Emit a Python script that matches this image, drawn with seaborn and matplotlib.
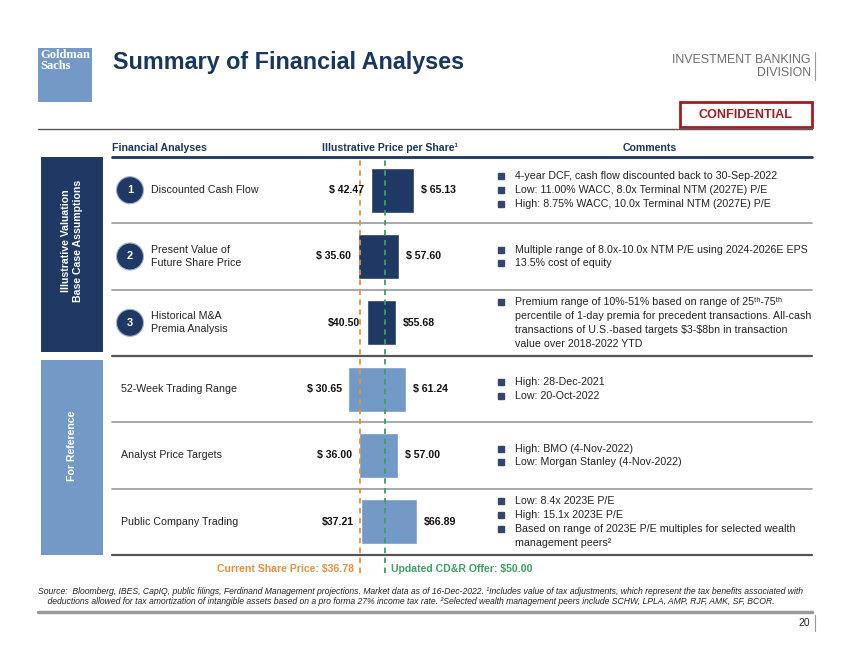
"""
Summary of financial analyses - football field chart.
"""

import matplotlib
matplotlib.use('Agg')
import pandas as pd
import matplotlib.pyplot as plt
import seaborn as sns
from matplotlib.patches import Rectangle, Circle

# ---- data ----
analyses = ['Discounted Cash Flow', 'Present Value of\nFuture Share Price',
            'Historical M&A\nPremia Analysis', '52-Week Trading Range',
            'Analyst Price Targets', 'Public Company Trading']
lows = [42.47, 35.60, 40.50, 30.65, 36.00, 37.21]
highs = [65.13, 57.60, 55.68, 61.24, 57.00, 66.89]
label_prefix = ['$ ', '$ ', '$', '$ ', '$ ', '$']
groups = ['base', 'base', 'base', 'ref', 'ref', 'ref']
row_numbers = ['1', '2', '3']
current_price = 36.78
offer_price = 50.00

comments = [
    ['4-year DCF, cash flow discounted back to 30-Sep-2022',
     'Low: 11.00% WACC, 8.0x Terminal NTM (2027E) P/E',
     'High: 8.75% WACC, 10.0x Terminal NTM (2027E) P/E'],
    ['Multiple range of 8.0x-10.0x NTM P/E using 2024-2026E EPS',
     '13.5% cost of equity'],
    ['Premium range of 10%-51% based on range of 25\u1d57\u02b0-75\u1d57\u02b0\n'
     'percentile of 1-day premia for precedent transactions. All-cash\n'
     'transactions of U.S.-based targets \\$3-\\$8bn in transaction\n'
     'value over 2018-2022 YTD'],
    ['High: 28-Dec-2021', 'Low: 20-Oct-2022'],
    ['High: BMO (4-Nov-2022)', 'Low: Morgan Stanley (4-Nov-2022)'],
    ['Low: 8.4x 2023E P/E', 'High: 15.1x 2023E P/E',
     'Based on range of 2023E P/E multiples for selected wealth\nmanagement peers\u00b2'],
]

footnote = ('Source:  Bloomberg, IBES, CapIQ, public filings, Ferdinand Management projections. '
            'Market data as of 16-Dec-2022. \u00b9Includes value of tax adjustments, which represent '
            'the tax benefits associated with\n    deductions allowed for tax amortization of intangible '
            'assets based on a pro forma 27% income tax rate. \u00b2Selected wealth management peers '
            'include SCHW, LPLA, AMP, RJF, AMK, SF, BCOR.')

# ---- style ----
NAVY = '#1F3864'
LIGHT = '#7399C6'
TITLE = '#17375E'
ORANGE = '#E8913C'
GREEN = '#3E9E64'
RED = '#A01E23'
BULLET = '#34466B'
TEXT = '#222222'

sns.set_theme(style='white')
plt.rcParams['font.family'] = ['Liberation Sans', 'DejaVu Sans']

W, H = 850, 656
fig = plt.figure(figsize=(8.5, 6.56), dpi=100)
fig.patch.set_facecolor('white')

# background axes in pixel units for the page layout
bg = fig.add_axes([0, 0, 1, 1], zorder=0)
bg.set_xlim(0, W)
bg.set_ylim(H, 0)
bg.axis('off')

table_top, row_h = 157, 66.33
table_bottom = table_top + 6 * row_h
row_y = [table_top + (i + 0.5) * row_h for i in range(6)]

# ---- header ----
bg.add_patch(Rectangle((38, 48), 54, 54, color=LIGHT, lw=0))
bg.text(40, 49, 'Goldman\nSachs', color='white', fontsize=9, fontweight='bold',
        family=['Liberation Serif', 'DejaVu Serif'], va='top', ha='left', linespacing=0.85)
bg.text(113, 63, 'Summary of Financial Analyses', color=TITLE, fontsize=16.8,
        fontweight='bold', va='center', ha='left')
bg.text(811, 60, 'INVESTMENT BANKING', color='#6d6d6d', fontsize=8.9, ha='right', va='center')
bg.text(811, 73.5, 'DIVISION', color='#6d6d6d', fontsize=8.9, ha='right', va='center')
bg.plot([815, 815], [52, 80], color='#999999', lw=0.8)
bg.add_patch(Rectangle((680, 102), 132, 25, facecolor='white', edgecolor=RED, lw=2))
bg.text(746, 114.5, 'CONFIDENTIAL', color=RED, fontsize=9.1, fontweight='bold',
        ha='center', va='center')
bg.plot([38, 812], [129, 129], color='#555555', lw=1)

# column headers
bg.text(112, 148, 'Financial Analyses', color=TITLE, fontsize=7.6, fontweight='bold', va='center')
bg.text(390, 148, 'Illustrative Price per Share\u00b9', color=TITLE, fontsize=7.6,
        fontweight='bold', va='center', ha='center')
bg.text(650, 148, 'Comments', color=TITLE, fontsize=7.6, fontweight='bold',
        va='center', ha='center')

# row separators
bg.plot([112, 812], [table_top, table_top], color=TITLE, lw=2)
for k in range(1, 7):
    y = table_top + k * row_h
    if k in (3, 6):
        bg.plot([112, 812], [y, y], color='#555555', lw=1.6)
    else:
        bg.plot([112, 812], [y, y], color='#9a9a9a', lw=1.2)

# section boxes
bg.add_patch(Rectangle((41, table_top), 62, 195, color=NAVY, lw=0))
bg.text(72, 241, 'Illustrative Valuation\nBase Case Assumptions', color='white',
        fontsize=7.6, fontweight='bold', rotation=90, ha='center', va='center')
bg.add_patch(Rectangle((41, 360), 62, table_bottom - 360, color=LIGHT, lw=0))
bg.text(72, 446, 'For Reference', color='white', fontsize=7.6,
        fontweight='bold', rotation=90, ha='center', va='center')

# row labels
for i, name in enumerate(analyses):
    if groups[i] == 'base':
        bg.add_patch(Circle((130, row_y[i]), 13.5, facecolor=NAVY, edgecolor='#9fb3d1', lw=0.8))
        bg.text(130, row_y[i], row_numbers[i], color='white', fontsize=8,
                fontweight='bold', ha='center', va='center')
        bg.text(151, row_y[i], name, color=TEXT, fontsize=7.65, va='center', linespacing=1.35)
    else:
        bg.text(121, row_y[i], name, color=TEXT, fontsize=7.65, va='center')

# comments
line_gap = 13.8
for i, bullets in enumerate(comments):
    lines = []
    for b in bullets:
        parts = b.split('\n')
        for j, p in enumerate(parts):
            lines.append((p, j == 0))
    n = len(lines)
    for j, (txt, first) in enumerate(lines):
        y = row_y[i] + (j - (n - 1) / 2) * line_gap
        if first:
            bg.plot(501, y, marker='s', ms=3.8, color=BULLET)
        bg.text(515, y, txt, color=TEXT, fontsize=7.7, va='center')

# footnote
bg.text(38, 596.5, footnote, color=TEXT, fontsize=6.25, style='italic', va='center',
        linespacing=1.25)
bg.plot([38, 812], [612, 612], color='#9a9a9a', lw=2.5)
bg.text(810, 623, '20', color=TEXT, fontsize=7.5, ha='right', va='center')
bg.plot([815, 815], [615, 631], color='#999999', lw=0.8)

# ---- bars ----
bax = fig.add_axes([300 / W, (H - table_bottom) / H, 179.6 / W, 6 * row_h / H], zorder=1)
bax.patch.set_alpha(0)

df = pd.DataFrame({'analysis': analyses, 'low': lows, 'high': highs, 'group': groups})
df['span'] = df['high'] - df['low']
for grp, color in [('base', NAVY), ('ref', LIGHT)]:
    sub = df[df['group'] == grp]
    sns.barplot(data=sub, x='span', y='analysis', order=analyses, left=sub['low'].to_numpy(),
                color=color, saturation=1, width=0.68, errorbar=None, ax=bax)

bax.set_xlim(5, 100)
bax.set_ylim(5.5, -0.5)
bax.axis('off')

for i in range(len(analyses)):
    bax.annotate(f"{label_prefix[i]}{lows[i]:.2f}", xy=(lows[i], i), xytext=(-5, 0),
                 textcoords='offset points', ha='right', va='center', fontsize=7.6,
                 fontweight='bold', color='#111111', zorder=5)
    bax.annotate(f"{label_prefix[i]}{highs[i]:.2f}", xy=(highs[i], i), xytext=(5, 0),
                 textcoords='offset points', ha='left', va='center', fontsize=7.6,
                 fontweight='bold', color='#111111', zorder=5)

# reference price lines
for price, color in [(current_price, ORANGE), (offer_price, GREEN)]:
    bax.axvline(price, ymin=-0.045, ymax=0.992, clip_on=False, color=color,
                lw=1.3, ls=(0, (3, 2.5)), zorder=4)

bax.annotate(f"Current Share Price: ${current_price:.2f}", xy=(current_price, -0.036),
             xycoords=('data', 'axes fraction'), xytext=(-4.5, 0), textcoords='offset points',
             ha='right', va='center', fontsize=7.6, fontweight='bold', color=ORANGE)
bax.annotate(f"Updated CD&R Offer: ${offer_price:.2f}", xy=(offer_price, -0.036),
             xycoords=('data', 'axes fraction'), xytext=(4.5, 0), textcoords='offset points',
             ha='left', va='center', fontsize=7.6, fontweight='bold', color=GREEN)

fig.savefig('out.png', dpi=100)
